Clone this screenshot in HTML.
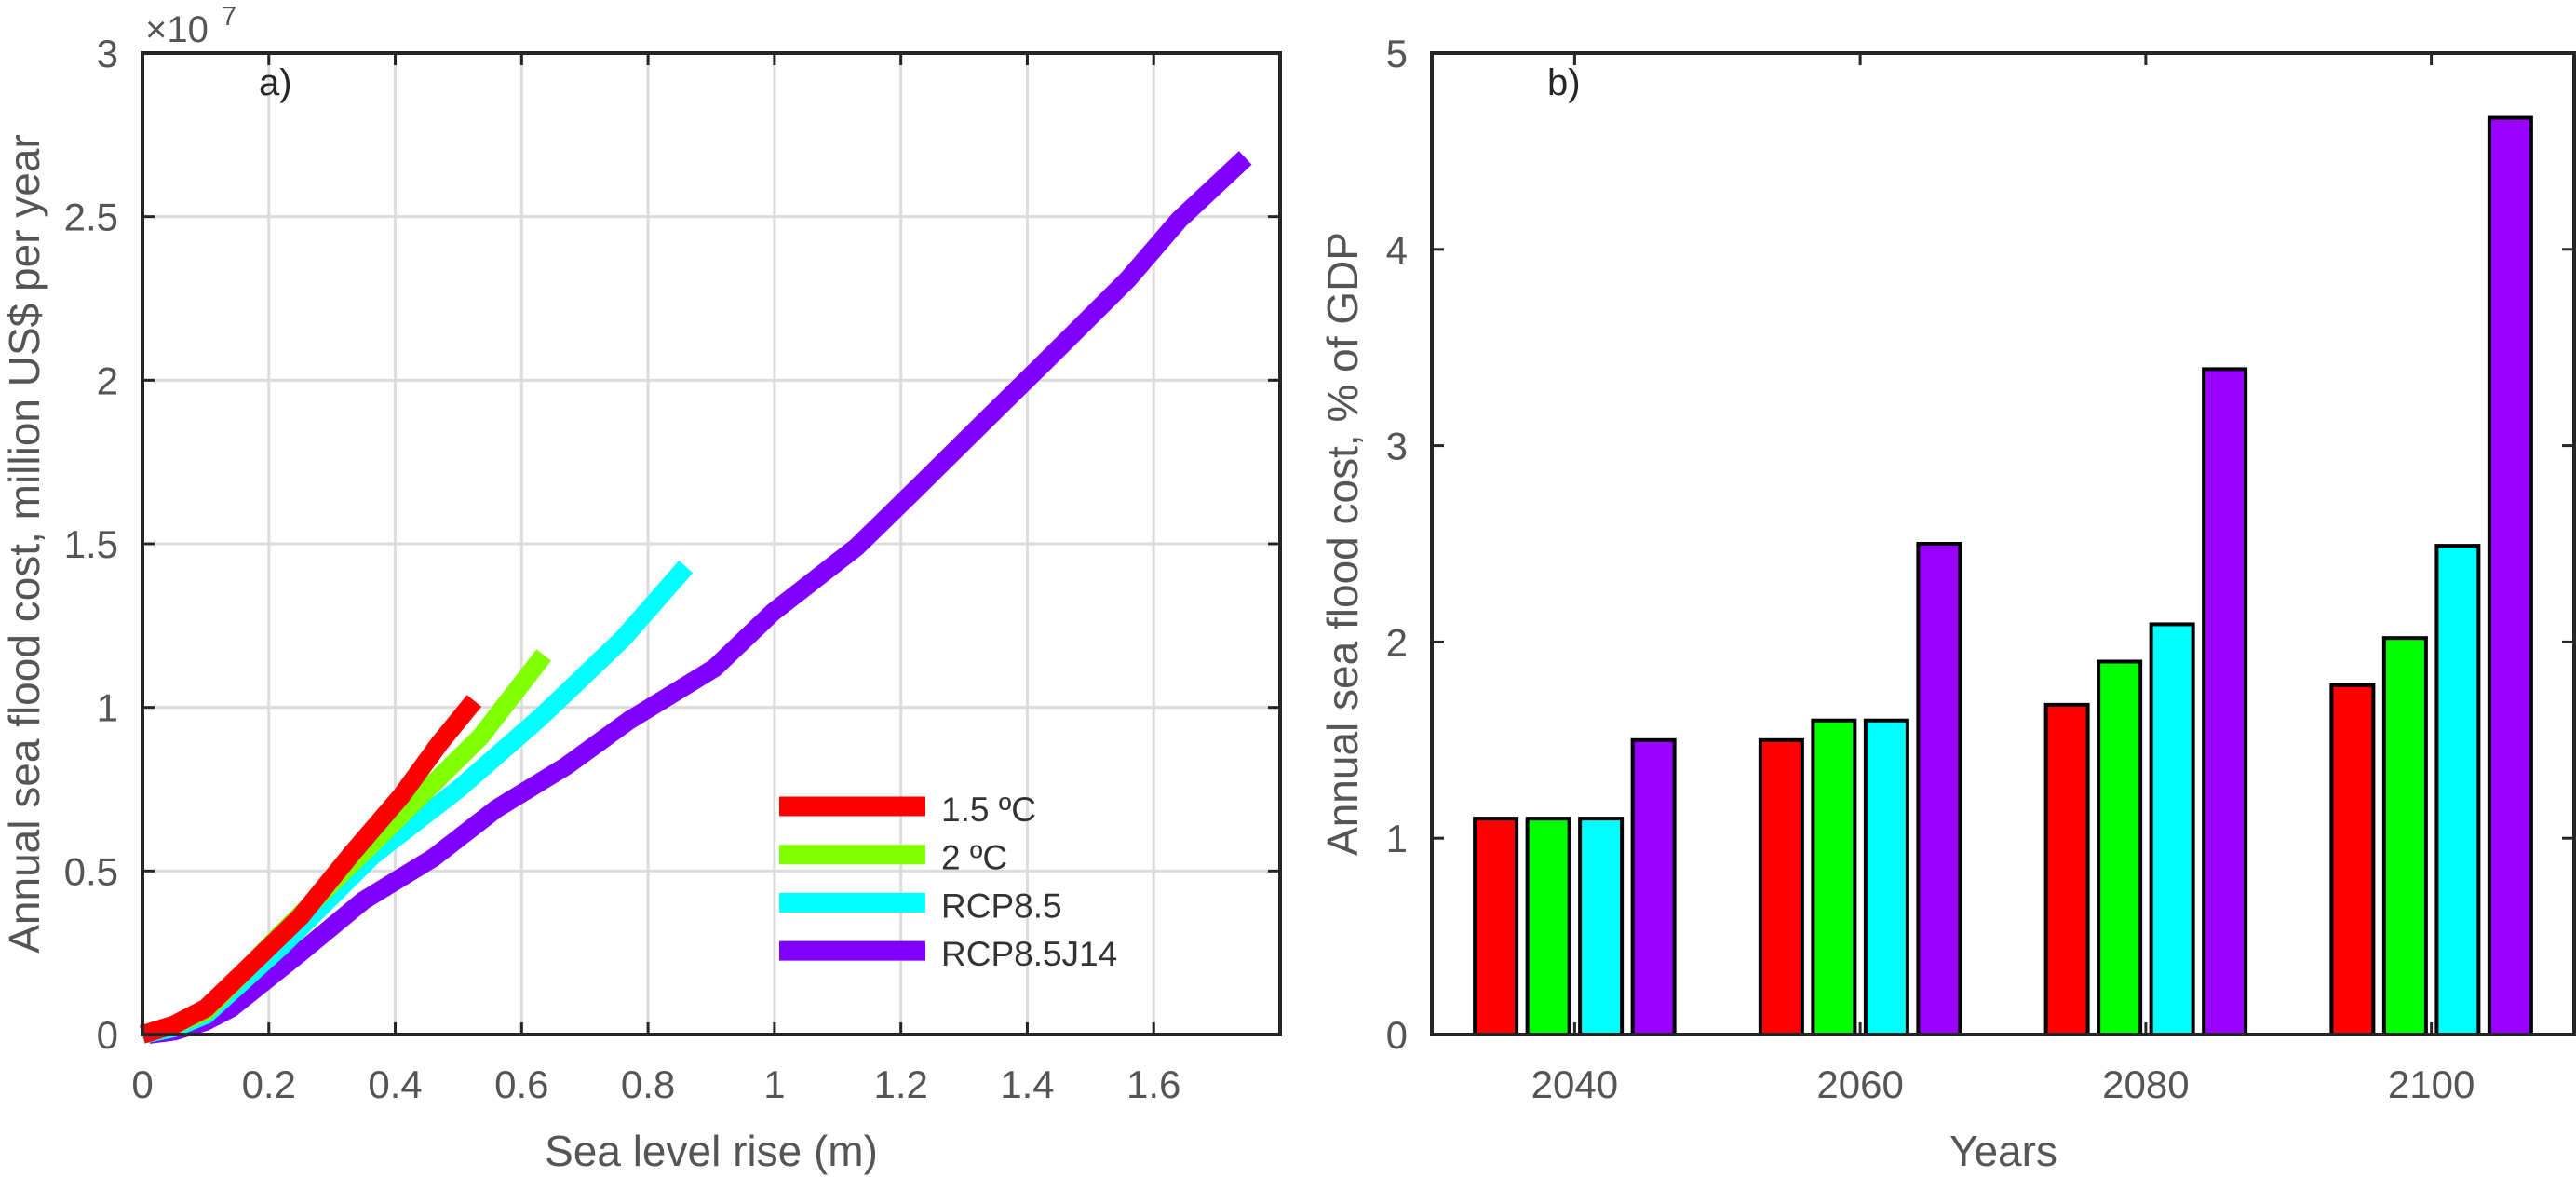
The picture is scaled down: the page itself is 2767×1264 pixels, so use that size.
<!DOCTYPE html>
<html><head><meta charset="utf-8"><style>
html,body{margin:0;padding:0;background:#fff;}
svg{display:block;font-family:"Liberation Sans",Arial,sans-serif;}
</style></head><body>
<svg id="fig" width="2767" height="1264" viewBox="0 0 2767 1264" xmlns="http://www.w3.org/2000/svg"></svg>
<script>
// ---- Panel a data ----
const redX = [0, 0.05, 0.1, 0.17, 0.25, 0.33, 0.41, 0.47, 0.525];
const redY = [0.0, 0.03, 0.08, 0.21, 0.36, 0.55, 0.73, 0.89, 1.02];
const greenX = [0, 0.05, 0.1, 0.21, 0.33, 0.43, 0.535, 0.635];
const greenY = [0.0, 0.03, 0.07, 0.29, 0.52, 0.71, 0.91, 1.16];
const cyanX = [0, 0.05, 0.1, 0.22, 0.366, 0.5, 0.63, 0.76, 0.86];
const cyanY = [0.0, 0.02, 0.06, 0.27, 0.55, 0.75, 0.97, 1.21, 1.43];
const purpleX = [0.01, 0.05, 0.1, 0.14, 0.25, 0.35, 0.46, 0.56, 0.67, 0.77, 0.905, 0.997, 1.13, 1.22, 1.33, 1.43, 1.56, 1.64, 1.745];
const purpleY = [0.0, 0.01, 0.04, 0.08, 0.25, 0.41, 0.54, 0.69, 0.82, 0.96, 1.12, 1.29, 1.49, 1.66, 1.87, 2.06, 2.31, 2.49, 2.68];
const seriesNames = ["1.5 ºC", "2 ºC", "RCP8.5", "RCP8.5J14"];
const xTicksA = [0, 0.2, 0.4, 0.6, 0.8, 1, 1.2, 1.4, 1.6];
const yTicksA = [0, 0.5, 1, 1.5, 2, 2.5, 3];
// ---- Panel b data ----
const years = ["2040", "2060", "2080", "2100"];
const bRed = [1.1, 1.5, 1.68, 1.78];
const bGreen = [1.1, 1.6, 1.9, 2.02];
const bCyan = [1.1, 1.6, 2.09, 2.49];
const bPurple = [1.5, 2.5, 3.39, 4.67];
const yTicksB = [0, 1, 2, 3, 4, 5];

const NS = "http://www.w3.org/2000/svg";
const svg = document.getElementById("fig");
function mk(tag, attrs, parent) {
  const e = document.createElementNS(NS, tag);
  for (const k in attrs) e.setAttribute(k, attrs[k]);
  (parent || svg).appendChild(e);
  return e;
}
function txt(s, attrs) { const t = mk("text", attrs); t.textContent = s; return t; }

const TICK_FS = 42, TITLE_FS = 46;
// Panel a geometry
const aL = 153, aR = 1375, aT = 57, aB = 1111;
const ax = v => aL + v / 1.8 * (aR - aL);
const ay = v => aB - v / 3 * (aB - aT);
const gA = mk("g", {});


xTicksA.forEach(v => {
  if (v > 0) { const l = mk("line", {x1: ax(v), x2: ax(v), y1: aT, y2: aB, stroke: "#dcdcdc", "stroke-width": 3}, gA);
    }
  mk("line", {x1: ax(v), x2: ax(v), y1: aB, y2: aB - 13, stroke: "#262626", "stroke-width": 3}, gA);
  mk("line", {x1: ax(v), x2: ax(v), y1: aT, y2: aT + 13, stroke: "#262626", "stroke-width": 3}, gA);
  const t = txt(String(v), {x: ax(v), y: 1179, "text-anchor": "middle", "font-size": TICK_FS, fill: "#555"});
   
});
yTicksA.forEach(v => {
  if (v > 0 && v < 3) { const l = mk("line", {x1: aL, x2: aR, y1: ay(v), y2: ay(v), stroke: "#dcdcdc", "stroke-width": 3}, gA);
    }
  mk("line", {x1: aL, x2: aL + 13, y1: ay(v), y2: ay(v), stroke: "#262626", "stroke-width": 3}, gA);
  mk("line", {x1: aR, x2: aR - 13, y1: ay(v), y2: ay(v), stroke: "#262626", "stroke-width": 3}, gA);
  const t = txt(String(v), {x: 127, y: ay(v) + 15, "text-anchor": "end", "font-size": TICK_FS, fill: "#555"});
   
});
const colorsA = ["#ff0000", "#80ff00", "#00ffff", "#8000ff"];
const sets = [[purpleX, purpleY], [cyanX, cyanY], [greenX, greenY], [redX, redY]];
const setColors = ["#8000ff", "#00ffff", "#80ff00", "#ff0000"];
const setNames = ["line-rcp85j14", "line-rcp85", "line-2c", "line-1-5c"];
sets.forEach((s, i) => {
  const d = s[0].map((x, j) => (j ? "L" : "M") + ax(x).toFixed(1) + "," + ay(s[1][j]).toFixed(1)).join(" ");
  const p = mk("path", {d: d, fill: "none", stroke: setColors[i], "stroke-width": 20, "stroke-linejoin": "round"}, gA);
  
  
});
const frA = mk("rect", {x: aL, y: aT, width: aR - aL, height: aB - aT, fill: "none", stroke: "#262626", "stroke-width": 4}, gA);
 
// legend
seriesNames.forEach((n, i) => {
  const y = 866 + i * 51.7;
  const l = mk("line", {x1: 837, x2: 994, y1: y, y2: y, stroke: colorsA[i], "stroke-width": 21});
   
  const t = txt(n, {x: 1011, y: y + 16, "font-size": 37, fill: "#333"});
   
});
let t;
t = txt("a)", {x: 278, y: 102, "font-size": 40, fill: "#262626"});
 
t = txt("×10", {x: 156, y: 45, "font-size": 40, fill: "#555"});
 
t = txt("7", {x: 238, y: 27, "font-size": 29, fill: "#555"});
 
t = txt("Sea level rise (m)", {x: 764, y: 1252, "text-anchor": "middle", "font-size": TITLE_FS, fill: "#555"});
 
t = txt("Annual sea flood cost, million US$ per year", {x: 0, y: 0, "text-anchor": "middle", "font-size": TITLE_FS, fill: "#555", transform: "translate(42," + (aT + aB) / 2 + ") rotate(-90)"});
 

// Panel b
const bL = 1538, bR = 2765, bT = 57, bB = 1111;
const grpW = (bR - bL) / 4;
const bx = i => bL + grpW * (i + 0.5);
const by = v => bB - v / 5 * (bB - bT);
const gB = mk("g", {});


const barSets = [bRed, bGreen, bCyan, bPurple];
const barColors = ["#ff0000", "#00ff00", "#00ffff", "#9900ff"];
const barNames = ["bar-1-5c", "bar-2c", "bar-rcp85", "bar-rcp85j14"];
const spacing = 56.5, bw = 45;
years.forEach((yr, i) => {
  barSets.forEach((arr, k) => {
    const cx = bx(i) + (k - 1.5) * spacing;
    const r = mk("rect", {x: cx - bw / 2, y: by(arr[i]), width: bw, height: bB - by(arr[i]), fill: barColors[k], stroke: "#000", "stroke-width": 4}, gB);
    
    
  });
  mk("line", {x1: bx(i), x2: bx(i), y1: bB, y2: bB - 13, stroke: "#262626", "stroke-width": 3}, gB);
  mk("line", {x1: bx(i), x2: bx(i), y1: bT, y2: bT + 13, stroke: "#262626", "stroke-width": 3}, gB);
  const tl = txt(yr, {x: bx(i), y: 1179, "text-anchor": "middle", "font-size": TICK_FS, fill: "#555"});
   
});
yTicksB.forEach(v => {
  mk("line", {x1: bL, x2: bL + 13, y1: by(v), y2: by(v), stroke: "#262626", "stroke-width": 3}, gB);
  mk("line", {x1: bR, x2: bR - 13, y1: by(v), y2: by(v), stroke: "#262626", "stroke-width": 3}, gB);
  const tl = txt(String(v), {x: 1512, y: by(v) + 15, "text-anchor": "end", "font-size": TICK_FS, fill: "#555"});
   
});
const frB = mk("rect", {x: bL, y: bT, width: bR - bL, height: bB - bT, fill: "none", stroke: "#262626", "stroke-width": 4}, gB);
 
t = txt("b)", {x: 1662, y: 102, "font-size": 40, fill: "#262626"});
 
t = txt("Years", {x: 2152, y: 1252, "text-anchor": "middle", "font-size": TITLE_FS, fill: "#555"});
 
t = txt("Annual sea flood cost, % of GDP", {x: 0, y: 0, "text-anchor": "middle", "font-size": TITLE_FS, fill: "#555", transform: "translate(1458," + (bT + bB) / 2 + ") rotate(-90)"});
 
</script>
</body></html>
